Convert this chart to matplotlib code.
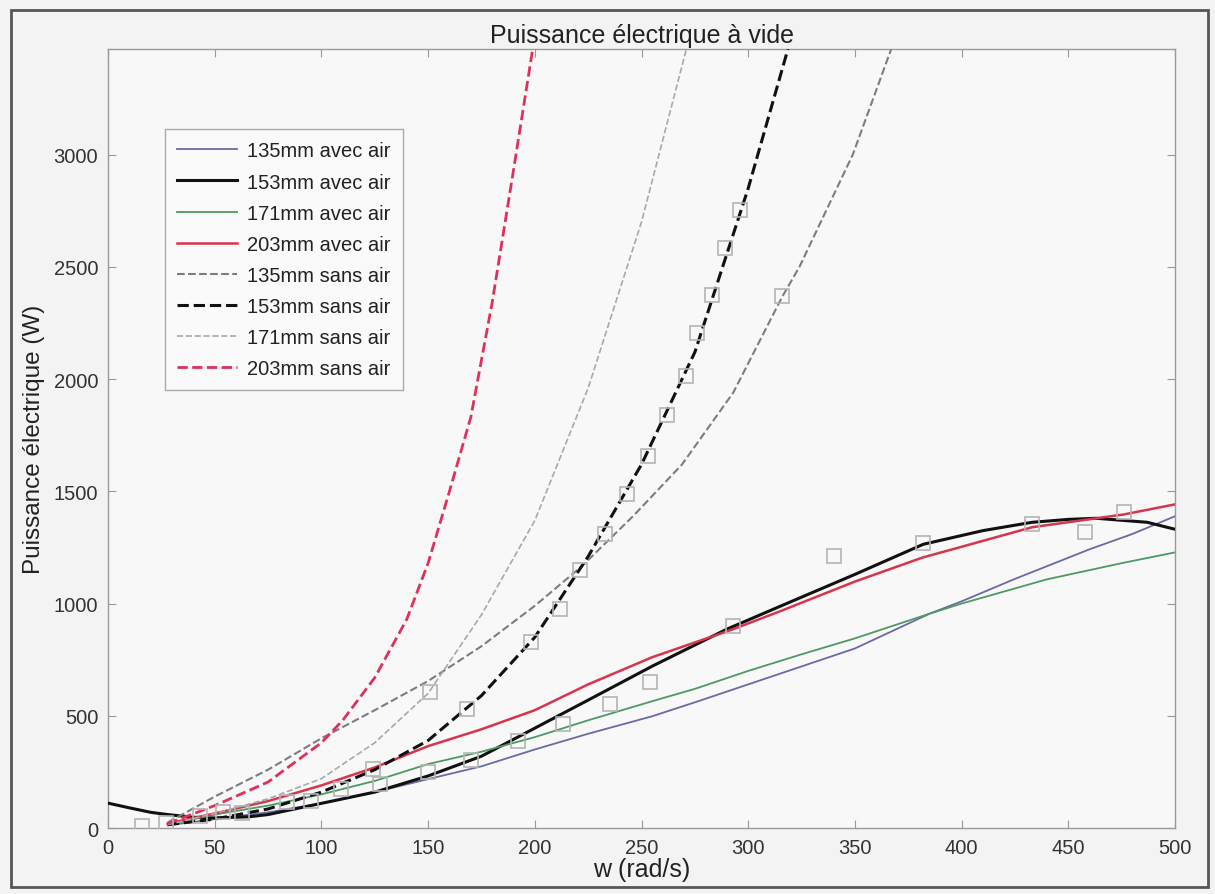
import numpy as np
import matplotlib
matplotlib.use("Agg")
from matplotlib import pyplot as plt
from matplotlib.patches import Rectangle

plt.rcParams['font.family'] = ['Liberation Sans', 'DejaVu Sans']

# ---- courbes "avec air" ----
w_135a = [28, 50, 75, 100, 125, 150, 175, 200, 225, 255, 275, 300, 325, 350, 385, 400, 425, 460, 480, 500]
p_135a = [12, 40, 70, 110, 160, 218, 275, 350, 420, 498, 560, 640, 720, 800, 955, 1010, 1110, 1242, 1310, 1389]

w_153a = [0, 10, 20, 28, 40, 50, 66, 75, 100, 125, 150, 175, 200, 225, 255, 290, 315, 350, 382, 410, 433, 450, 463, 487, 500]
p_153a = [111, 90, 70, 60, 48, 45, 50, 60, 110, 160, 232, 320, 445, 570, 721, 886, 988, 1130, 1264, 1325, 1362, 1375, 1380, 1362, 1331]

w_171a = [28, 50, 75, 100, 125, 150, 175, 200, 225, 255, 275, 300, 325, 350, 385, 400, 440, 475, 500]
p_171a = [15, 60, 100, 150, 210, 285, 340, 405, 480, 565, 620, 700, 774, 845, 955, 1000, 1108, 1180, 1228]

w_203a = [28, 50, 75, 100, 125, 150, 175, 200, 225, 255, 293, 315, 350, 382, 400, 433, 476, 500]
p_203a = [20, 65, 120, 190, 270, 365, 440, 525, 640, 761, 886, 966, 1098, 1206, 1253, 1340, 1397, 1442]

# ---- courbes "sans air" ----
w_135s = [28, 50, 75, 100, 125, 150, 175, 200, 222, 246, 269, 293, 316, 324, 349, 367]
p_135s = [25, 140, 260, 400, 525, 655, 810, 990, 1166, 1389, 1620, 1940, 2368, 2500, 3000, 3470]

w_153s = [28, 50, 75, 100, 125, 150, 175, 200, 225, 250, 275, 300, 318.6]
p_153s = [15, 40, 85, 160, 260, 390, 590, 850, 1210, 1620, 2120, 2850, 3470]

w_171s = [28, 50, 75, 100, 125, 150, 175, 200, 225, 250, 271]
p_171s = [15, 65, 130, 220, 380, 600, 950, 1370, 1960, 2700, 3470]

w_203s = [28, 50, 75, 100, 110, 125, 140, 150, 160, 170, 180, 190, 199]
p_203s = [20, 100, 205, 380, 480, 670, 930, 1180, 1500, 1830, 2340, 2930, 3470]

# ---- points de mesure (carres) ----
mes_w = [16, 27, 43, 54, 63, 84, 95, 109, 124, 127.5, 150, 151, 168, 170, 192, 213, 235, 254, 293,
         340, 382, 433, 458, 476,
         198, 212, 221, 233, 243, 253, 262, 271, 276, 283, 289, 296, 316]
mes_p = [10, 22, 53, 71, 65, 116, 120, 174, 262, 196, 250, 605, 530, 305, 387, 463, 552, 650, 900,
         1210, 1272, 1353, 1317, 1406,
         828, 975, 1150, 1308, 1486, 1656, 1842, 2012, 2207, 2376, 2586, 2755, 2368]

labels = ["135mm avec air", "153mm avec air", "171mm avec air", "203mm avec air",
          "135mm sans air", "153mm sans air", "171mm sans air", "203mm sans air"]

fig = plt.figure(figsize=(12.15, 8.95), dpi=100, facecolor='#f3f3f3')
ax = fig.add_axes([0.0889, 0.0737, 0.8782, 0.8703])
ax.set_facecolor('#f8f8f8')

ax.plot(mes_w, mes_p, 's', ms=9.5, mfc='none', mec='#b4b4b4', mew=1.2, zorder=4)

ax.plot(w_135a, p_135a, '-', color='#6a6aa6', lw=1.3, label=labels[0], zorder=3)
ax.plot(w_153a, p_153a, '-', color='#111111', lw=2.2, label=labels[1], zorder=3)
ax.plot(w_171a, p_171a, '-', color='#4d9a62', lw=1.3, label=labels[2], zorder=3)
ax.plot(w_203a, p_203a, '-', color='#d8344e', lw=1.8, label=labels[3], zorder=3)
ax.plot(w_135s, p_135s, '--', color='#7c7c86', lw=1.5, label=labels[4], zorder=3)
ax.plot(w_153s, p_153s, '--', color='#111111', lw=2.2, label=labels[5], zorder=3)
ax.plot(w_171s, p_171s, '--', color='#a2aca8', lw=1.2, label=labels[6], zorder=3)
ax.plot(w_203s, p_203s, '--', color='#e0305a', lw=2.0, label=labels[7], zorder=3)

ax.set_xlim(0, 500)
ax.set_ylim(0, 3470)
ax.set_xticks(np.arange(0, 501, 50))
ax.set_yticks(np.arange(0, 3001, 500))
ax.tick_params(direction='in', top=True, right=True, length=6, color='#9a9a9a',
               labelsize=14.5, labelcolor='#333333', pad=7)
for s in ax.spines.values():
    s.set_color('#9a9a9a')
    s.set_linewidth(1.0)

ax.set_title("Puissance électrique à vide", fontsize=18, color='#222222', pad=5)
ax.set_xlabel("w (rad/s)", fontsize=18, color='#222222', labelpad=0)
ax.set_ylabel("Puissance électrique (W)", fontsize=17.5, color='#222222', labelpad=6)

leg = ax.legend(loc='upper left', bbox_to_anchor=(0.053, 0.897), borderaxespad=0,
                fontsize=14.5, handlelength=3.0, labelspacing=0.6, borderpad=0.6,
                handletextpad=0.5, fancybox=False, framealpha=1,
                edgecolor='#aaaaaa', facecolor='#fafafa')
for t in leg.get_texts():
    t.set_color('#222222')

fig.add_artist(Rectangle((0.009, 0.008), 0.985, 0.98, transform=fig.transFigure,
                         fill=False, edgecolor='#555555', lw=2))

fig.savefig("out.png", dpi=100, facecolor=fig.get_facecolor())
